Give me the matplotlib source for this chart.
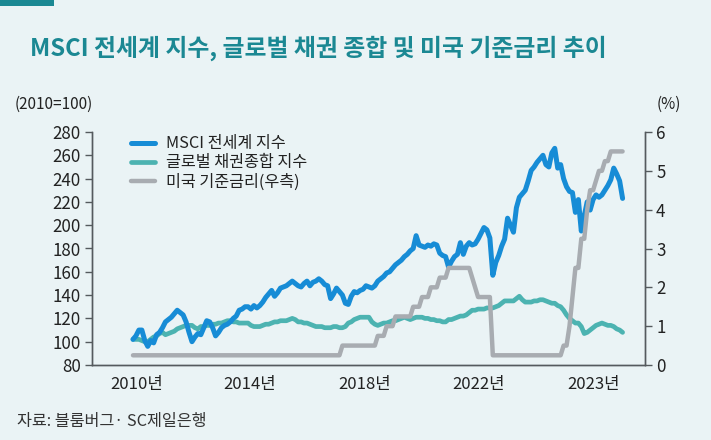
"""MSCI world index, global aggregate bond index and US policy rate (2010=100)."""

import matplotlib

matplotlib.use("Agg")
import matplotlib.pyplot as plt
from matplotlib.patches import Rectangle

plt.rcParams["font.family"] = ["Noto Sans CJK KR", "DejaVu Sans"]

BG = "#eaf3f5"
TEAL_TITLE = "#1b8893"
MSCI_COLOR = "#178cd6"
BOND_COLOR = "#4cb3b1"
RATE_COLOR = "#a8acb1"
AXIS_COLOR = "#555a5e"

# monthly, Jan 2010 .. Nov 2023
msci = [
    102, 105, 110, 110, 101, 96, 101, 99, 106, 108, 112, 117,  # 2010
    119, 121, 124, 127, 125, 123, 117, 108, 100, 104, 107, 106,  # 2011
    112, 118, 117, 112, 105, 108, 112, 114, 115, 117, 120, 122,  # 2012
    127, 128, 130, 130, 128, 131, 129, 131, 134, 138, 141, 144,  # 2013
    139, 142, 146, 147, 148, 150, 152, 150, 148, 147, 150, 152,  # 2014
    148, 151, 152, 154, 152, 149, 148, 137, 141, 146, 143, 140,  # 2015
    133, 132, 139, 143, 142, 144, 145, 148, 147, 146, 148, 152,  # 2016
    154, 156, 159, 160, 163, 166, 168, 170, 173, 175, 178, 180,  # 2017
    191, 183, 182, 181, 183, 182, 184, 183, 176, 174, 173, 164,  # 2018
    169, 173, 175, 185, 175, 182, 185, 183, 184, 188, 193, 198,  # 2019
    196, 189, 157, 168, 174, 182, 188, 206, 200, 194, 215, 224,  # 2020
    227, 230, 238, 247, 250, 254, 257, 260, 252, 250, 262, 266,  # 2021
    249, 252, 240, 233, 229, 228, 211, 222, 195, 208, 220, 213,  # 2022
    222, 226, 224, 226, 230, 234, 239, 249, 244, 238, 223,  # 2023
]

bond = [
    102, 102, 102, 101, 100, 100, 102, 104, 105, 107, 108, 106,  # 2010
    107, 108, 109, 111, 112, 113, 114, 114, 114, 112, 111, 113,  # 2011
    113, 114, 114, 115, 115, 116, 116, 117, 118, 118, 117, 117,  # 2012
    116, 116, 116, 116, 114, 113, 113, 113, 114, 115, 115, 116,  # 2013
    117, 117, 118, 118, 118, 119, 120, 119, 117, 117, 116, 116,  # 2014
    115, 114, 113, 113, 113, 112, 112, 112, 113, 113, 112, 112,  # 2015
    113, 116, 117, 119, 120, 121, 121, 121, 121, 117, 115, 114,  # 2016
    115, 116, 116, 117, 118, 118, 119, 120, 121, 120, 119, 120,  # 2017
    121, 121, 121, 120, 120, 119, 119, 118, 118, 117, 117, 119,  # 2018
    119, 120, 121, 122, 122, 123, 125, 127, 127, 128, 128, 128,  # 2019
    129, 129, 129, 130, 131, 133, 135, 135, 135, 135, 137, 139,  # 2020
    136, 134, 134, 134, 135, 135, 136, 136, 135, 134, 133, 133,  # 2021
    131, 130, 127, 123, 120, 118, 116, 116, 113, 107, 108, 110,  # 2022
    112, 114, 115, 116, 115, 114, 114, 113, 111, 110, 108,  # 2023
]

fed_rate = [
    0.25, 0.25, 0.25, 0.25, 0.25, 0.25, 0.25, 0.25, 0.25, 0.25, 0.25, 0.25,  # 2010
    0.25, 0.25, 0.25, 0.25, 0.25, 0.25, 0.25, 0.25, 0.25, 0.25, 0.25, 0.25,  # 2011
    0.25, 0.25, 0.25, 0.25, 0.25, 0.25, 0.25, 0.25, 0.25, 0.25, 0.25, 0.25,  # 2012
    0.25, 0.25, 0.25, 0.25, 0.25, 0.25, 0.25, 0.25, 0.25, 0.25, 0.25, 0.25,  # 2013
    0.25, 0.25, 0.25, 0.25, 0.25, 0.25, 0.25, 0.25, 0.25, 0.25, 0.25, 0.25,  # 2014
    0.25, 0.25, 0.25, 0.25, 0.25, 0.25, 0.25, 0.25, 0.25, 0.25, 0.25, 0.5,  # 2015
    0.5, 0.5, 0.5, 0.5, 0.5, 0.5, 0.5, 0.5, 0.5, 0.5, 0.5, 0.75,  # 2016
    0.75, 0.75, 1.0, 1.0, 1.0, 1.25, 1.25, 1.25, 1.25, 1.25, 1.25, 1.5,  # 2017
    1.5, 1.5, 1.75, 1.75, 1.75, 2.0, 2.0, 2.0, 2.25, 2.25, 2.25, 2.5,  # 2018
    2.5, 2.5, 2.5, 2.5, 2.5, 2.5, 2.5, 2.25, 2.0, 1.75, 1.75, 1.75,  # 2019
    1.75, 1.75, 0.25, 0.25, 0.25, 0.25, 0.25, 0.25, 0.25, 0.25, 0.25, 0.25,  # 2020
    0.25, 0.25, 0.25, 0.25, 0.25, 0.25, 0.25, 0.25, 0.25, 0.25, 0.25, 0.25,  # 2021
    0.25, 0.25, 0.5, 0.5, 1.0, 1.75, 2.5, 2.5, 3.25, 3.25, 4.0, 4.5,  # 2022
    4.5, 4.75, 5.0, 5.0, 5.25, 5.25, 5.5, 5.5, 5.5, 5.5, 5.5,  # 2023
]

months = list(range(len(msci)))

# the source places its year labels at fixed spots along the month axis
x_tick_pos = [1.4, 39.7, 78.6, 117.0, 156.0]
x_tick_labels = ["2010년", "2014년", "2018년", "2022년", "2023년"]
left_ticks = [80, 100, 120, 140, 160, 180, 200, 220, 240, 260, 280]
right_ticks = [0, 1, 2, 3, 4, 5, 6]

series_labels = ["MSCI 전세계 지수", "글로벌 채권종합 지수", "미국 기준금리(우측)"]


def main() -> None:
    fig = plt.figure(figsize=(7.11, 4.40), dpi=100, facecolor=BG)

    # teal tab in the top-left corner
    fig.patches.append(
        Rectangle((0, 1 - 6 / 440), 54 / 711, 6 / 440, transform=fig.transFigure,
                  facecolor=TEAL_TITLE, edgecolor="none")
    )
    fig.text(30 / 711, 1 - 48 / 440, "MSCI 전세계 지수, 글로벌 채권 종합 및 미국 기준금리 추이",
             fontsize=17.2, fontweight="bold", color=TEAL_TITLE, va="center", ha="left")

    ax = fig.add_axes([92 / 711, 75 / 440, 553 / 711, 233 / 440])
    ax.set_facecolor(BG)
    ax2 = ax.twinx()

    line_kw = dict(solid_capstyle="round", solid_joinstyle="round")
    (l1,) = ax.plot(months, msci, color=MSCI_COLOR, linewidth=3.6, zorder=3, **line_kw)
    (l2,) = ax.plot(months, bond, color=BOND_COLOR, linewidth=3.4, zorder=2, **line_kw)
    (l3,) = ax2.plot(months, fed_rate, color=RATE_COLOR, linewidth=3.2, **line_kw)

    ax.set_xlim(-13.9, 173.6)
    ax.set_ylim(80, 280)
    ax2.set_ylim(0, 6)
    ax.set_yticks(left_ticks)
    ax2.set_yticks(right_ticks)
    ax.set_xticks(x_tick_pos)
    ax.set_xticklabels(x_tick_labels)

    for a in (ax, ax2):
        a.spines["top"].set_visible(False)
        for side in ("left", "right", "bottom"):
            a.spines[side].set_color(AXIS_COLOR)
            a.spines[side].set_linewidth(1.0)
    ax.tick_params(axis="y", direction="out", length=5, width=1.0, color=AXIS_COLOR,
                   labelsize=12.2, labelcolor="#222222", pad=3)
    ax2.tick_params(axis="y", direction="out", length=5, width=1.0, color=AXIS_COLOR,
                    labelsize=12.2, labelcolor="#222222", pad=3)
    ax.tick_params(axis="x", length=0, labelsize=12, labelcolor="#222222", pad=8)

    fig.text(15 / 711, 1 - 104 / 440, "(2010=100)", fontsize=11, color="#222222",
             va="center", ha="left")
    fig.text(657 / 711, 1 - 104 / 440, "(%)", fontsize=11, color="#222222",
             va="center", ha="left")

    leg = ax.legend([l1, l2, l3], series_labels, loc="upper left",
                    bbox_to_anchor=(0.056, 1.02), frameon=False, fontsize=11.7,
                    borderpad=0, handlelength=1.45, handletextpad=0.68, labelspacing=0.12)
    for text in leg.get_texts():
        text.set_color("#222222")

    fig.text(17 / 711, 1 - 421 / 440, "자료: 블룸버그· SC제일은행", fontsize=11.7,
             color="#333333", va="center", ha="left")

    fig.savefig("out.png", dpi=100, facecolor=BG)
    plt.close(fig)


if __name__ == "__main__":
    main()
